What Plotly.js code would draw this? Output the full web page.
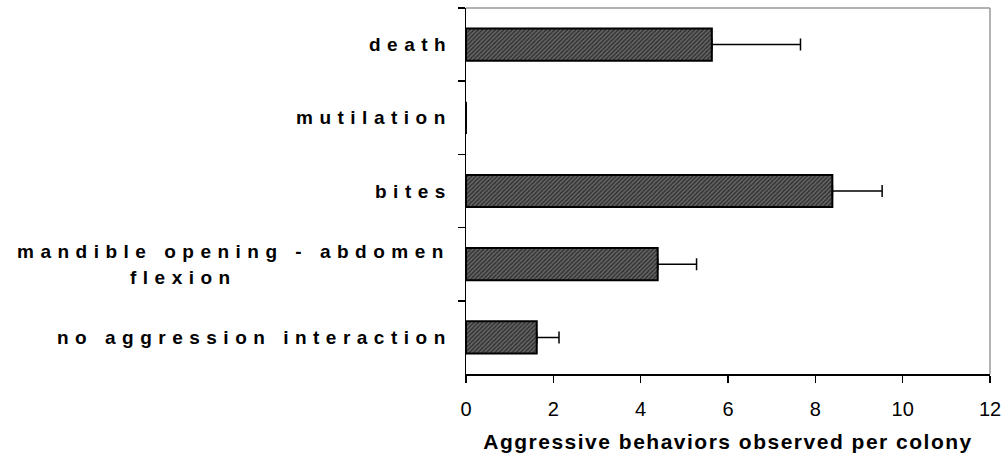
<!DOCTYPE html>
<html>
<head>
<meta charset="utf-8">
<script src="https://cdn.plot.ly/plotly-3.0.1.min.js"></script>
<style>
html,body{margin:0;padding:0;background:#fff;}
#chart{width:1008px;height:467px;}
</style>
</head>
<body>
<div id="chart"></div>
<script>
// Data (top to bottom)
const categories = ['death', 'mutilation', 'bites', 'mandible opening - abdomen<br>flexion', 'no aggression interaction'];
const means = [5.63, 0, 8.39, 4.39, 1.62];
const errors = [2.03, 0, 1.14, 0.89, 0.51];
const xTickVals = [0, 2, 4, 6, 8, 10, 12];
const xTitle = 'Aggressive behaviors observed per colony';

const FONT = 'Arial, "Liberation Sans", sans-serif';

const trace = {
  type: 'bar',
  orientation: 'h',
  y: categories,
  x: means,
  marker: {
    color: '#4a4a4a',
    line: {color: '#000', width: 2},
    pattern: {shape: '/', size: 3, solidity: 0.45, fgcolor: '#2e2e2e', bgcolor: '#666666'}
  },
  error_x: {type: 'data', symmetric: false, array: errors, arrayminus: errors.map(() => 0),
            visible: true, color: '#000', thickness: 1.5, width: 6},
  hoverinfo: 'none'
};

// category labels as letter-spaced annotations
const LBL = {family: FONT, size: 19, color: '#000', weight: 'bold'};
const SP = '<span style="letter-spacing:6.5px">';
const annotations = [];
categories.forEach((c, i) => {
  const lines = c.split('<br>');
  if (lines.length === 1) {
    annotations.push({
      xref: 'paper', yref: 'y', x: -0.0235, y: c, xanchor: 'right', yanchor: 'middle',
      text: SP + lines[0] + '</span>', showarrow: false, font: LBL
    });
  } else {
    annotations.push({
      xref: 'paper', yref: 'y', x: -0.0275, y: c, xanchor: 'right', yanchor: 'middle', yshift: 13,
      text: SP + lines[0] + '</span>', showarrow: false, font: LBL
    });
    annotations.push({
      xref: 'paper', yref: 'y', x: -0.433, y: c, xanchor: 'right', yanchor: 'middle', yshift: -13,
      text: SP + lines[1] + '</span>', showarrow: false, font: LBL
    });
  }
});

const layout = {
  width: 1008, height: 467,
  margin: {l: 466, r: 18, t: 8, b: 93},
  paper_bgcolor: '#fff', plot_bgcolor: '#fff',
  showlegend: false,
  bargap: 0.56,
  font: {family: FONT, color: '#000'},
  xaxis: {
    range: [0, 12], tickvals: xTickVals, ticks: 'outside', ticklen: 7, tickwidth: 1.5, tickcolor: '#000',
    ticklabelstandoff: 9,
    showline: true, linecolor: '#000', linewidth: 1.5, showgrid: false, zeroline: false,
    tickfont: {family: FONT, size: 20, color: '#000'},
    title: {text: '<span style="letter-spacing:1.5px">' + xTitle + '</span>',
            font: {family: FONT, size: 21, color: '#000', weight: 'bold'}, standoff: 16},
    fixedrange: true
  },
  yaxis: {
    type: 'category', categoryorder: 'array', categoryarray: categories, autorange: 'reversed',
    tickson: 'boundaries', ticks: 'outside', ticklen: 7, tickwidth: 1.5, tickcolor: '#000',
    showticklabels: false, showline: true, linecolor: '#000', linewidth: 1.5, showgrid: false, zeroline: false,
    fixedrange: true
  },
  shapes: [
    {type: 'line', xref: 'paper', yref: 'paper', x0: 0, x1: 1, y0: 1, y1: 1, line: {color: '#999', width: 1.5}},
    {type: 'line', xref: 'paper', yref: 'paper', x0: 1, x1: 1, y0: 0, y1: 1, line: {color: '#999', width: 1.5}}
  ],
  annotations: annotations
};

Plotly.newPlot('chart', [trace], layout, {displayModeBar: false, staticPlot: true});
</script>
</body>
</html>
